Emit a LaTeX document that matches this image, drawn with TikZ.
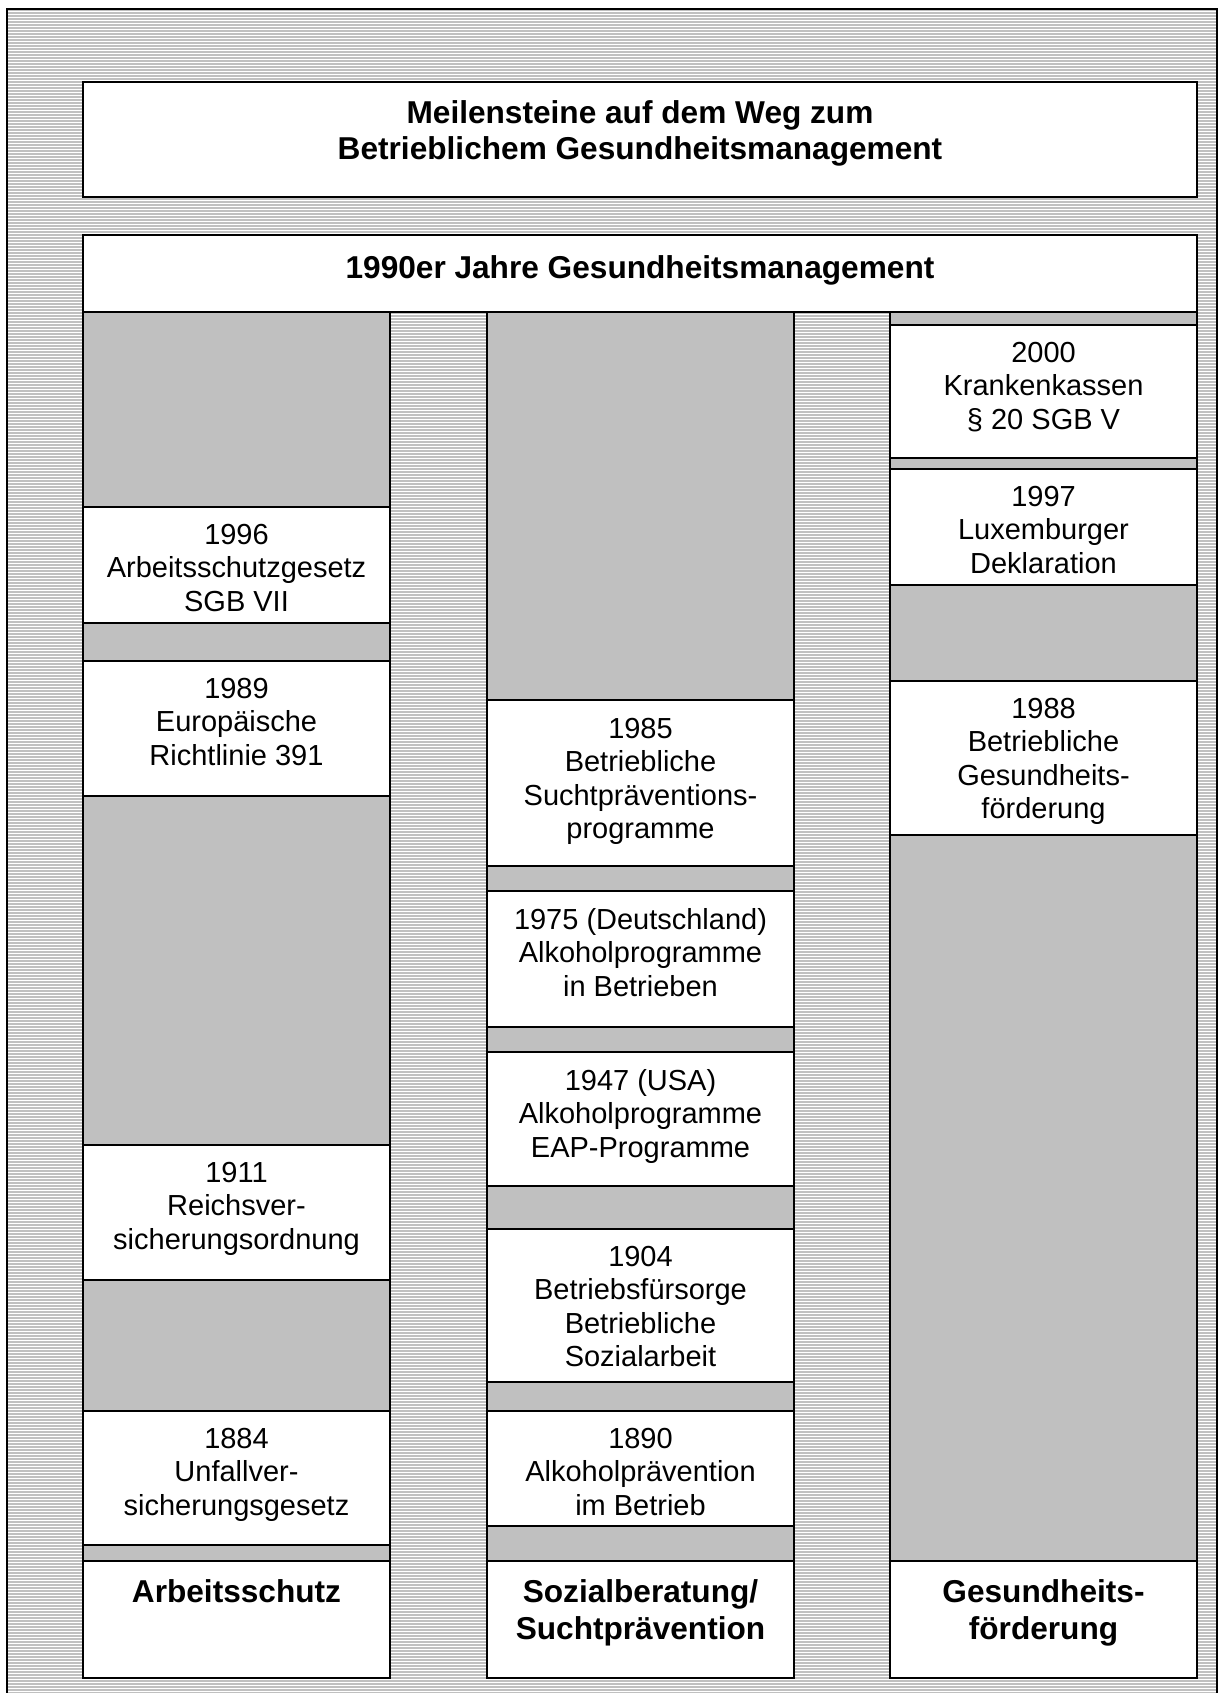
\documentclass[tikz,border=0pt]{standalone}
\usepackage{fontspec}
\setmainfont{Liberation Sans}
\usepackage{tikz}
\usepackage{xcolor}
\definecolor{stripegray}{HTML}{C0C0C0}

\tikzset{
  evbox/.style={draw,fill=white,line width=0.9pt},
  colbar/.style={draw,fill=stripegray,line width=0.6pt},
  evtext/.style={anchor=north,inner sep=0pt,align=center,font=\fontsize{16.5}{19}\selectfont},
  headtext/.style={anchor=north,inner sep=0pt,align=center,font=\bfseries\fontsize{18}{21}\selectfont},
}

\begin{document}
\begin{tikzpicture}[x=0.02cm,y=-0.02cm]
    \useasboundingbox (0,0) rectangle (1219,1693);
    \clip (0,0) rectangle (1219,1693);
    % striped background
    \fill[stripegray] (7,9) rectangle (1217,1720);
    \foreach \y in {11,14,...,1691}
        \draw[white,line width=0.02cm] (7,\y.5) -- (1217,\y.5);
    \draw[line width=1.1pt] (7,9) rectangle (1217,1720);
    % headings
    \draw[evbox,line width=1.2pt] (83,82) rectangle (1197,197);
    \node[headtext,font=\bfseries\fontsize{18}{20.5}\selectfont] (title) at (640,100) {Meilensteine auf dem Weg zum\\Betrieblichem Gesundheitsmanagement};
    \draw[evbox] (83,235) rectangle (1197,312);
    \node[headtext] (bgm) at (640,255) {1990er Jahre Gesundheitsmanagement};
    % the three columns
    \draw[colbar] (83,312) rectangle (390,1561);
    \draw[colbar] (487,312) rectangle (794,1561);
    \draw[colbar] (890,312) rectangle (1197,1561);
    % Arbeitsschutz
    \draw[evbox] (83,507) rectangle (390,623);
    \node[evtext] (as1996) at (236.5,524) {1996\\Arbeitsschutzgesetz\\SGB VII};
    \draw[evbox] (83,661) rectangle (390,796);
    \node[evtext] (as1989) at (236.5,678) {1989\\Europäische\\Richtlinie 391};
    \draw[evbox] (83,1145) rectangle (390,1280);
    \node[evtext] (as1911) at (236.5,1162) {1911\\Reichsver-\\sicherungsordnung};
    \draw[evbox] (83,1411) rectangle (390,1545);
    \node[evtext] (as1884) at (236.5,1428) {1884\\Unfallver-\\sicherungsgesetz};
    \draw[evbox] (83,1561) rectangle (390,1678);
    \node[headtext] (asfoot) at (236.5,1579) {Arbeitsschutz};
    % Sozialberatung
    \draw[evbox] (487,700) rectangle (794,866);
    \node[evtext] (sb1985) at (640.5,718) {1985\\Betriebliche\\Suchtpräventions-\\programme};
    \draw[evbox] (487,891) rectangle (794,1027);
    \node[evtext] (sb1975) at (640.5,908) {1975 (Deutschland)\\Alkoholprogramme\\in Betrieben};
    \draw[evbox] (487,1052) rectangle (794,1186);
    \node[evtext] (sb1947) at (640.5,1069) {1947 (USA)\\Alkoholprogramme\\EAP-Programme};
    \draw[evbox] (487,1229) rectangle (794,1382);
    \node[evtext] (sb1904) at (640.5,1246) {1904\\Betriebsfürsorge\\Betriebliche\\Sozialarbeit};
    \draw[evbox] (487,1411) rectangle (794,1526);
    \node[evtext] (sb1890) at (640.5,1428) {1890\\Alkoholprävention\\im Betrieb};
    \draw[evbox] (487,1561) rectangle (794,1678);
    \node[headtext] (sbfoot) at (640.5,1579) {Sozialberatung/\\Suchtprävention};
    % Gesundheitsfoerderung
    \draw[evbox] (890,325) rectangle (1197,458);
    \node[evtext] (gf2000) at (1043.5,342) {2000\\Krankenkassen\\§ 20 SGB V};
    \draw[evbox] (890,469) rectangle (1197,585);
    \node[evtext] (gf1997) at (1043.5,486) {1997\\Luxemburger\\Deklaration};
    \draw[evbox] (890,681) rectangle (1197,835);
    \node[evtext] (gf1988) at (1043.5,698) {1988\\Betriebliche\\Gesundheits-\\förderung};
    \draw[evbox] (890,1561) rectangle (1197,1678);
    \node[headtext] (gffoot) at (1043.5,1579) {Gesundheits-\\förderung};
\end{tikzpicture}
\end{document}
